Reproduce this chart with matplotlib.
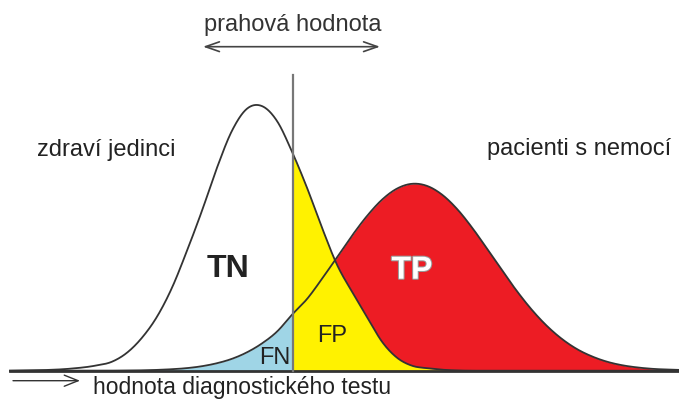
import matplotlib
matplotlib.use("Agg")
import matplotlib.pyplot as plt
import matplotlib.patheffects as pe
import numpy as np

plt.rcParams['font.family'] = ['Liberation Sans', 'DejaVu Sans']

# test value (x) and frequency (height above the baseline)
test_value = [10, 40, 70, 95,
              112, 127, 142, 157, 172, 187, 202, 217, 232, 247, 262, 277,
              292, 307, 322, 337, 352, 367, 382, 397, 412, 427, 442, 457,
              472, 487, 502, 517, 532, 547, 562, 577, 592, 607, 622, 637,
              652, 679]
healthy = [0, 0.5, 2, 5,
           9, 18, 33, 54, 83, 120, 160, 203, 240, 262, 264.6, 249.7,
           219, 183, 143, 106, 79, 54, 29, 13, 5, 2.5, 1, 0.3,
           0, 0, 0, 0, 0, 0, 0, 0, 0, 0, 0, 0,
           0, 0]
disease = [0, 0, 0, 0,
           0.1, 0.2, 0.4, 0.8, 1.5, 2.6, 4.5, 7.5, 11.9, 18.4, 27.3, 39.1,
           56, 71.7, 91.9, 113.4, 135, 154.7, 171, 182.1, 186.9, 184.8, 176.1, 161.8,
           143.2, 122.1, 100.4, 79.5, 60.7, 44.7, 31.7, 21.6, 14.3, 9.0, 5.5, 3.3,
           1.9, 0.8]
threshold = 292.5

YELLOW = '#fff200'
RED = '#ed1c24'
BLUE = '#9fd5e6'
LINE = '#333333'


def smooth(xp, yp, xs):
    """Cubic Hermite curve through the read points (for drawing only)."""
    xp = np.asarray(xp, float)
    yp = np.asarray(yp, float)
    m = np.gradient(yp, xp)
    i = np.clip(np.searchsorted(xp, xs) - 1, 0, len(xp) - 2)
    h = xp[i + 1] - xp[i]
    t = (xs - xp[i]) / h
    h00 = 2 * t**3 - 3 * t**2 + 1
    h10 = t**3 - 2 * t**2 + t
    h01 = -2 * t**3 + 3 * t**2
    h11 = t**3 - t**2
    y = h00 * yp[i] + h10 * h * m[i] + h01 * yp[i + 1] + h11 * h * m[i + 1]
    return np.clip(y, 0, None)


fig = plt.figure(figsize=(6.79, 4.0), dpi=100)
ax = fig.add_axes([0, 0, 1, 1])
ax.set_xlim(0, 679)
ax.set_ylim(-29.3, 370.7)
ax.axis('off')

xs = np.union1d(np.linspace(test_value[0], test_value[-1], 2000), [threshold])
hy = smooth(test_value, healthy, xs)
dy = smooth(test_value, disease, xs)

right = xs >= threshold
ax.fill_between(xs, 0, hy, where=right, color=YELLOW, lw=0)
ax.fill_between(xs, hy, dy, where=right & (dy >= hy), interpolate=True,
                color=RED, lw=0)
ax.fill_between(xs, 0, dy, where=xs <= threshold, color=BLUE, lw=0)

ax.plot(xs, hy, color=LINE, lw=1.3)
ax.plot(xs, dy, color=LINE, lw=1.3)
ax.plot([test_value[0], 679], [0, 0], color=LINE, lw=2)
ax.plot([threshold, threshold], [0, 296], color='#777777', lw=1.6)

# threshold arrow and label
ax.annotate('', xy=(380, 324), xytext=(203, 324),
            arrowprops=dict(arrowstyle='<->,head_length=1.0,head_width=0.35',
                            color='#444444', lw=1.2, shrinkA=0, shrinkB=0,
                            mutation_scale=10))
ax.text(293, 346, 'prahová hodnota', ha='center', va='center',
        fontsize=17, color='#333333')

ax.text(37, 221, 'zdraví jedinci', ha='left', va='center',
        fontsize=17, color='#222222')
ax.text(487, 222, 'pacienti s nemocí', ha='left', va='center',
        fontsize=17, color='#222222')

ax.text(228, 102, 'TN', ha='center', va='center', fontsize=23,
        fontweight='bold', color='#222222')
ax.text(412, 100, 'TP', ha='center', va='center', fontsize=23,
        fontweight='bold', color='white',
        path_effects=[pe.withStroke(linewidth=1.5, foreground='#999999')])
ax.text(332, 35, 'FP', ha='center', va='center', fontsize=17, color='#222222')
ax.text(275, 13, 'FN', ha='center', va='center', fontsize=17, color='#222222')

# x axis caption
ax.annotate('', xy=(80, -10), xytext=(13, -10),
            arrowprops=dict(arrowstyle='->,head_length=1.0,head_width=0.4',
                            color='#333333', lw=1.0, shrinkA=0, shrinkB=0,
                            mutation_scale=10))
ax.text(93, -23, 'hodnota diagnostického testu', ha='left', va='baseline',
        fontsize=16.5, color='#222222')

fig.savefig('out.png', dpi=100)
